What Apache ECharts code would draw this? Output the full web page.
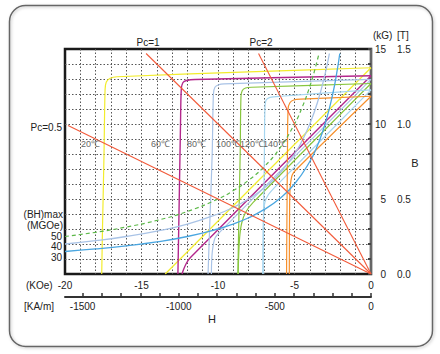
<!DOCTYPE html>
<html>
<head>
<meta charset="utf-8">
<script src="https://cdn.jsdelivr.net/npm/echarts@6/dist/echarts.min.js"></script>
<style>html,body{margin:0;padding:0;background:#fff}#main{width:440px;height:354px}</style>
</head>
<body>
<div id="main"></div>
<script>
// H in kOe, B / J in kG
var hKOeLabels = [-20, -15, -10, -5, 0];
var hKAmTicks = [-1500, -1400, -1300, -1200, -1100, -1000, -900, -800, -700, -600, -500, -400, -300, -200, -100, 0];
var hKAmLabels = [-1500, -1000, -500, 0];
var bKGLabels = [0, 5, 10, 15];
var temps = ['20℃', '60℃', '80℃', '100℃', '120℃', '140℃'];
var KAM_PER_KOE = 79.577;

// intrinsic curves (J-H)
var j20  = [[0, 13.75], [-8, 13.47], [-16.6, 13.15], [-17.05, 13.05], [-17.3, 12.8], [-17.38, 12.3], [-17.45, 8], [-17.55, 3], [-17.6, 0]];
var j60  = [[0, 13.22], [-11.5, 12.97], [-12.05, 12.9], [-12.3, 12.75], [-12.4, 12.3], [-12.45, 10], [-12.55, 4], [-12.62, 0]];
var j80  = [[0, 12.97], [-9.6, 12.67], [-9.95, 12.62], [-10.2, 12.45], [-10.3, 12.0], [-10.38, 8], [-10.55, 3], [-10.65, 0]];
var j100 = [[0, 12.7], [-7.8, 12.45], [-8.2, 12.4], [-8.42, 12.22], [-8.5, 11.8], [-8.55, 8], [-8.65, 3], [-8.7, 0]];
var j120 = [[0, 12.27], [-5.9, 11.85], [-6.6, 11.77], [-6.85, 11.6], [-6.93, 11.1], [-6.97, 8], [-7.03, 3], [-7.06, 0]];
var j140 = [[0, 11.85], [-4.6, 11.66], [-5.05, 11.6], [-5.3, 11.42], [-5.42, 11.0], [-5.46, 8], [-5.5, 3], [-5.52, 0]];

// normal curves (B-H)
var b20  = [[0, 13.75], [-13.45, 0]];
var b60  = [[0, 13.22], [-11.8, 1.1], [-12.05, 0.75], [-12.25, 0.3], [-12.35, 0]];
var b80  = [[0, 12.97], [-9.9, 2.77], [-10.2, 2.38], [-10.36, 1.6], [-10.42, 0.7], [-10.43, 0]];
var b100 = [[0, 12.7], [-7.7, 4.77], [-8.2, 4.1], [-8.45, 3.4], [-8.58, 2.5], [-8.65, 1.2], [-8.68, 0]];
var b120 = [[0, 12.27], [-6.2, 5.88], [-6.7, 5.3], [-6.93, 4.8], [-7.02, 4.0], [-7.05, 2.5], [-7.06, 0]];
var b140 = [[0, 11.85], [-4.9, 6.95], [-5.15, 6.6], [-5.28, 5.8], [-5.32, 4.5], [-5.34, 0]];

// (BH)max iso-energy curves, MGOe
var bh50 = [[-20, 2.5], [-18, 2.78], [-16, 3.13], [-14, 3.57], [-12, 4.17], [-10, 5.0], [-9, 5.56], [-8, 6.25], [-7, 7.14], [-6, 8.33], [-5, 10.0], [-4.5, 11.11], [-4, 12.5], [-3.6, 13.89], [-3.4, 14.71]];
var bh40 = [[-20, 2.0], [-18, 2.22], [-16, 2.5], [-14, 2.86], [-12, 3.33], [-10, 4.0], [-9, 4.44], [-8, 5.0], [-7, 5.71], [-6, 6.67], [-5, 8.0], [-4.5, 8.89], [-4, 10.0], [-3.5, 11.43], [-3, 13.33], [-2.72, 14.7]];
var bh30 = [[-20, 1.5], [-18, 1.67], [-16, 1.88], [-14, 2.14], [-12, 2.5], [-10, 3.0], [-9, 3.33], [-8, 3.75], [-7, 4.29], [-6, 5.0], [-5, 6.0], [-4, 7.5], [-3.5, 8.57], [-3, 10.0], [-2.5, 12.0], [-2.2, 13.64], [-2.04, 14.7]];

// load lines (permeance coefficient)
var pc05 = [[-19.8, 9.9], [0, 0]];
var pc1  = [[-14.7, 14.7], [0, 0]];
var pc2  = [[-7.35, 14.7], [0, 0]];

var FONT = '"Liberation Sans", Arial, sans-serif';
var colors = ['#f2ec2c', '#b3278c', '#a9c3e6', '#88c63e', '#a6d6f0', '#f7902c'];

function curve(name, data, color, width, smooth, dash) {
  return {
    name: name, type: 'line', data: data, symbol: 'none', smooth: smooth,
    lineStyle: { color: color, width: width, type: dash || 'solid' },
    silent: true, z: 3
  };
}

var series = [];
var jList = [j20, j60, j80, j100, j120, j140];
var bList = [b20, b60, b80, b100, b120, b140];
for (var i = 0; i < temps.length; i++) {
  var w = i === 1 ? 1.4 : 1.2;
  series.push(curve(temps[i] + ' J', jList[i], colors[i], w, 0.3));
  series.push(curve(temps[i] + ' B', bList[i], colors[i], w, 0.3));
}
series.push(curve('50 MGOe', bh50, '#5cb848', 1.2, true, [4, 3]));
series.push(curve('40 MGOe', bh40, '#a9c3e6', 1.3, true));
series.push(curve('30 MGOe', bh30, '#4aa6e0', 1.3, true));
series.push(curve('Pc=0.5', pc05, '#f25a3a', 1.1, false));
series.push(curve('Pc=1', pc1, '#f25a3a', 1.1, false));
series.push(curve('Pc=2', pc2, '#f25a3a', 1.1, false));

function txt(s, x, y, align, size, color) {
  return {
    type: 'text', x: x, y: y, silent: true, z: 10,
    style: {
      text: s, font: (size || 10) + 'px ' + FONT, fill: color || '#222',
      align: align || 'left', verticalAlign: 'middle',
      textAlign: align || 'left', textVerticalAlign: 'middle'
    }
  };
}

var tempLabelX = [81, 151, 187, 216, 240, 263];
var graphics = [
  { type: 'rect', silent: true, z: -1,
    shape: { x: 9.5, y: 5.5, width: 423, height: 341, r: 16 },
    style: { fill: 'none', stroke: '#666', lineWidth: 1.5, shadowBlur: 3, shadowColor: 'rgba(0,0,0,0.25)', shadowOffsetX: 1, shadowOffsetY: 1 } },
  txt('Pc=1', 148, 42, 'center'),
  txt('Pc=2', 261, 42, 'center'),
  txt('Pc=0.5', 62, 127, 'right'),
  txt('(BH)max', 63, 214, 'right'),
  txt('(MGOe)', 63, 225, 'right'),
  txt('50', 62, 236, 'right'),
  txt('40', 62, 246, 'right'),
  txt('30', 62, 257, 'right'),
  txt('(kG)', 373, 35, 'left'),
  txt('[T]', 397, 35, 'left'),
  txt('B', 415, 163, 'center', 11),
  txt('(KOe)', 26, 285, 'left'),
  txt('[KA/m]', 24, 306, 'left'),
  txt('H', 212, 319, 'center', 11)
];
for (var k = 0; k < temps.length; k++) {
  graphics.push(txt(temps[k], tempLabelX[k], 144, 'left', 9, '#666'));
}

var dotted = { show: true, showMinLine: false, showMaxLine: false, lineStyle: { color: '#555', width: 1, type: [1.5, 2] } };

var chart = echarts.init(document.getElementById('main'), null, { renderer: 'svg' });
chart.setOption({
  animation: false,
  backgroundColor: '#fff',
  textStyle: { fontFamily: FONT },
  grid: { left: 65, top: 49, width: 306, height: 225, show: true, borderColor: '#1a1a1a', borderWidth: 2.5, containLabel: false },
  xAxis: [
    { type: 'value', min: -20, max: 0, interval: 1, position: 'bottom',
      axisLine: { show: false }, axisTick: { show: false },
      axisLabel: { customValues: hKOeLabels, margin: 6, fontSize: 10, color: '#222' },
      splitLine: dotted },
    { type: 'value', min: -20 * KAM_PER_KOE, max: 0, position: 'bottom', offset: 23,
      axisLine: { show: true, onZero: false, lineStyle: { color: '#333', width: 2 } },
      axisTick: { show: true, inside: true, length: 4, customValues: hKAmTicks, lineStyle: { color: '#333', width: 1.5 } },
      axisLabel: { customValues: hKAmLabels, margin: 4, fontSize: 10, color: '#222',
        formatter: function (v) { return String(v); } },
      splitLine: { show: false } }
  ],
  yAxis: [
    { type: 'value', min: 0, max: 15, interval: 1, position: 'left',
      axisLine: { show: false }, axisTick: { show: false }, axisLabel: { show: false },
      splitLine: dotted },
    { type: 'value', min: 0, max: 15, interval: 1, position: 'right', offset: 20,
      axisLine: { show: true, lineStyle: { color: '#666', width: 2 } },
      axisTick: { show: true, inside: true, length: 3, lineStyle: { color: '#444', width: 2 } },
      axisLabel: { inside: true, customValues: bKGLabels, margin: 5, fontSize: 10, color: '#222' },
      splitLine: { show: false } },
    { type: 'value', min: 0, max: 1.5, interval: 0.5, position: 'right', offset: 20,
      axisLine: { show: false }, axisTick: { show: false },
      axisLabel: { margin: 6, fontSize: 10, color: '#222', formatter: function (v) { return v.toFixed(1); } },
      splitLine: { show: false } }
  ],
  graphic: graphics,
  series: series
});
</script>
</body>
</html>
